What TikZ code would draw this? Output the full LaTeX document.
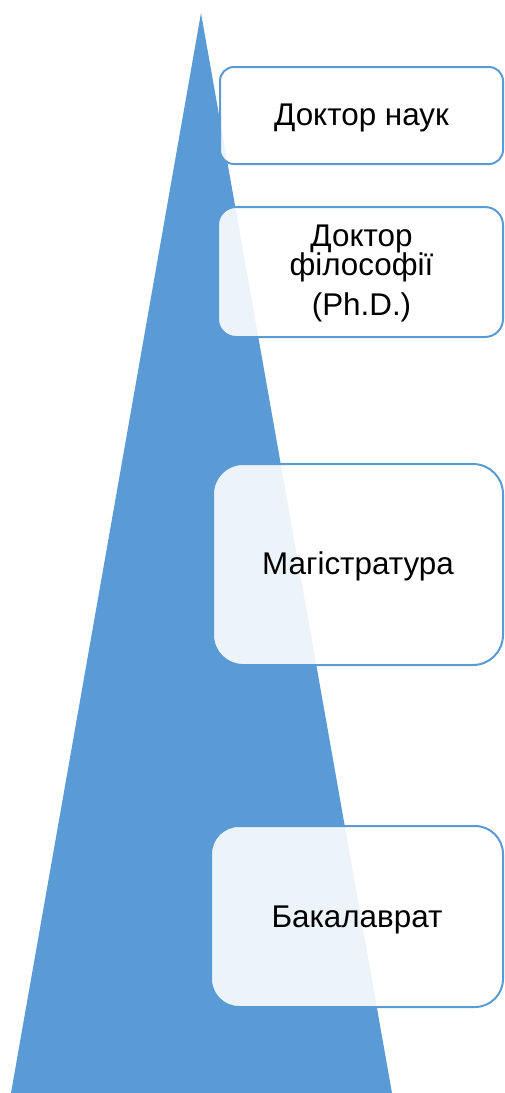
\documentclass[tikz,border=0pt]{standalone}
\usepackage{fontspec}
\setmainfont{Liberation Sans}
\definecolor{triblue}{HTML}{5B9BD5}
\tikzset{
  levelbox/.style={draw=triblue, line width=2bp, fill=white, fill opacity=0.89, inner sep=0pt},
  leveltext/.style={anchor=base, inner sep=0pt, font=\fontsize{31.5}{29}\selectfont, align=center, text=black}
}
\begin{document}
\begin{tikzpicture}[x=1bp,y=-1bp]
\useasboundingbox (0,0) rectangle (505,1093);
% triangle
\fill[triblue] (201,13) coordinate (apex) -- (11,1093) coordinate (bl) -- (392,1093) coordinate (br) -- cycle;
% boxes
\draw[levelbox, rounded corners=14bp] (220,67) rectangle (503,164);
\node[inner sep=0pt] (b1) at (361.5,115.5) {};
\draw[levelbox, rounded corners=18bp] (218,207) rectangle (503,337);
\node[inner sep=0pt] (b2) at (360.5,272) {};
\draw[levelbox, rounded corners=30bp] (213,464) rectangle (503,665);
\node[inner sep=0pt] (b3) at (358,564.5) {};
\draw[levelbox, rounded corners=28bp] (211,826) rectangle (503,1007);
\node[inner sep=0pt] (b4) at (357,916.5) {};
% texts
\node[leveltext] (t1) at (361.5,125) {Доктор наук};
\node[leveltext] (t2a) at (361.5,246) {Доктор};
\node[leveltext] (t2b) at (361.5,275) {філософії};
\node[leveltext] (t2c) at (361.5,315) {(Ph.D.)};
\node[leveltext] (t3) at (358,574) {Магістратура};
\node[leveltext] (t4) at (357,927) {Бакалаврат};
\end{tikzpicture}
\end{document}
